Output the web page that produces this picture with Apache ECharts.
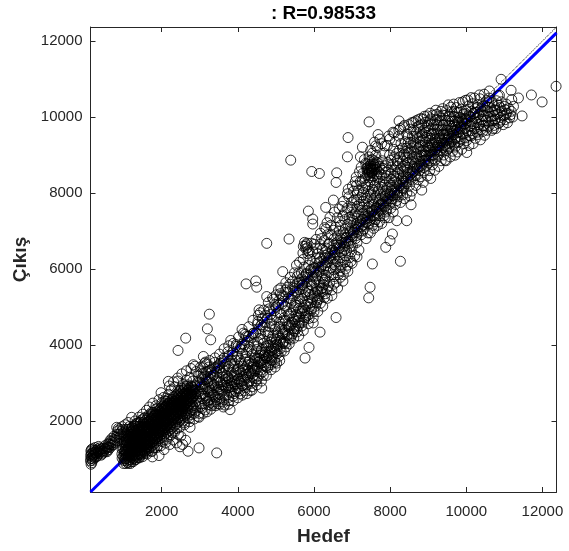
<!DOCTYPE html>
<html style="height: 100%">

<head>
  <meta charset="utf-8">
  <script type="text/javascript" src="https://cdn.jsdelivr.net/npm/echarts@6/dist/echarts.min.js"></script>
</head>

<body style="height: 100%; margin: 0; background: #fff">
  <div id="container" style="width: 569px; height: 551px"></div>
  <script type="text/javascript">
    var axisMin = 130;
    var axisMax = 12370;
    var tickValues = [2000, 4000, 6000, 8000, 10000, 12000];
    var titleText = ': R=0.98533';
    var xName = 'Hedef';
    var yName = 'Çıkış';

    var identityLine = [[130, 130], [12370, 12370]];
    var fitLine = [[130, 130], [12370, 12215]];

    // single circles that stand apart from the cloud
    var outliers = [
      [10915,10993],[11177,10704],[11711,10581],[11370,10502],[11992,10397],[12359,10809],[11466,10029],[11195,10458],
      [10608,10686],[10345,10581],[10126,10511],[9907,10397],[10871,10572],[10713,9697],[10013,9066],[7447,9872],
      [8235,9898],[8804,9959],[6895,9460],[7683,9539],[7272,9206],[7622,9241],[6878,8952],[7219,8952],[7447,8952],
      [5389,8865],[5941,8567],[6142,8514],[6597,8532],[6580,8278],[5853,7525],[5967,7315],[5967,7183],[6308,7621],
      [6343,7218],[6510,7814],[5345,6789],[7534,6132],[8270,6203],[7885,6570],[7998,6745],[8060,6921],[8436,7271],
      [8174,7271],[8550,7691],[8524,7919],[8830,8077],[9067,8383],[9443,8865],[9706,8996],[4759,6675],[5179,5931],
      [4216,5608],[4470,5686],[4496,5520],[3252,4811],[3200,4425],[3287,4136],[2631,4180],[2429,3856],[3095,3698],
      [2832,3480],[2870,3440],[3182,3497],[3813,4119],[2175,3042],[1983,2744],[1212,2096],[818,1833],[3445,1159],
      [2981,1290],[2692,1203],[2631,1492],[2745,1833],[2981,2096],[3795,2297],[3620,2368],[3357,2446],[4627,2867],
      [4321,2797],[4873,3348],[5021,3523],[4146,4312],[4190,4280],[4557,4925],[4590,4850],[4759,5275],[5065,5450],[1676,2367],
      [1755,1054],[1930,1089],[2061,1247],[2394,1422],[2438,1640],[1738,1203],[2300,1500],[2500,1600],[2210,1380],
      [7473,5520],[7438,5240],[6580,4723],[6159,4338],[5765,3655],[5870,3935],[2550,1380],[2480,1320],[2100,1420]
    ];

    // band near the left axis, below the main body
    var leftCluster = [
      [145,860],[130,950],[160,1020],[135,1090],[170,1150],[140,1210],[190,1270],[210,1180],[235,1040],[250,1300],
      [270,1130],[290,1220],[310,1080],[340,1330],[360,1150],[385,1240],[400,1190],[430,1130],[455,1280],[480,1210],
      [510,1350],[530,1270],[565,1190],[590,1400],[610,1310],[640,1480],[660,1370],[690,1540],[720,1430],[750,1600],
      [780,1500],[830,1650],[870,1560],[900,1770],[930,1640],[960,1850],[1000,1700],[1040,1900],[1070,1780],[1120,1960],
      [1150,1850],[150,1130],[180,960],[200,1090],[155,1250],[165,900],[225,1230],[260,1190],[300,1150],[320,1260],
      [350,1210],[370,1290],[420,1260],[445,1200],[500,1260],[540,1200],[580,1300],[620,1390],[670,1460],[705,1360],
      [740,1510],[800,1570],[845,1740],[880,1660],[820,1480],[910,1580],[860,1800],[140,1010],[175,1060],[205,1000],
      [125,1160],[215,1110],[245,1160],[280,1050],[330,1180],[410,1100],[470,1160],[555,1320],[600,1240],[650,1300],
      [730,1380],[770,1440],[940,1720],[980,1780],[1010,1600],[1060,1680],[1100,1720],[1130,1780]
    ];

    // the solid black body from about 1000 to 2900
    var lowBody = [
      [1010,960],[985,1070],[1020,1170],[990,1265],[1030,1345],[1105,905],[1090,1010],[1120,1095],[1085,1195],[1115,1310],
      [1095,1420],[1195,925],[1210,1035],[1180,1125],[1220,1245],[1190,1355],[1205,1465],[1185,1570],[1300,975],[1285,1085],
      [1310,1195],[1295,1290],[1320,1405],[1280,1510],[1305,1625],[1290,1730],[1400,1045],[1415,1150],[1385,1265],[1410,1365],
      [1395,1485],[1420,1590],[1390,1700],[1405,1800],[1500,1130],[1490,1235],[1515,1340],[1485,1450],[1510,1555],[1495,1660],
      [1520,1760],[1490,1870],[1600,1230],[1615,1325],[1590,1430],[1610,1540],[1585,1640],[1620,1745],[1595,1850],[1610,1955],
      [1700,1300],[1690,1410],[1715,1510],[1695,1620],[1710,1725],[1685,1830],[1705,1935],[1720,2040],[1800,1390],[1815,1495],
      [1790,1600],[1810,1710],[1785,1815],[1820,1915],[1795,2020],[1805,2130],[1900,1480],[1890,1590],[1915,1690],[1895,1800],
      [1910,1900],[1885,2010],[1905,2115],[1920,2215],[2000,1560],[2015,1670],[1990,1770],[2010,1880],[1985,1985],[2020,2090],
      [1995,2195],[2005,2300],[2100,1660],[2090,1760],[2115,1865],[2095,1970],[2110,2075],[2085,2180],[2105,2285],[2120,2385],
      [2200,1750],[2215,1850],[2190,1955],[2210,2060],[2185,2165],[2220,2270],[2195,2375],[2205,2480],[2300,1840],[2290,1945],
      [2315,2050],[2295,2155],[2310,2255],[2285,2365],[2305,2470],[2400,1930],[2415,2035],[2390,2140],[2410,2245],[2385,2350],
      [2420,2450],[2395,2555],[2500,2030],[2490,2130],[2515,2235],[2495,2335],[2510,2440],[2485,2545],[2505,2640],[2600,2120],
      [2615,2225],[2590,2325],[2610,2430],[2585,2530],[2620,2635],[2595,2730],[2700,2210],[2690,2320],[2715,2420],[2695,2525],
      [2710,2625],[2685,2730],[2705,2810],[2800,2300],[2815,2410],[2790,2510],[2810,2615],[2785,2710],[2820,2820],[2795,2900],
      [2900,2400],[2890,2500],[2915,2600],[2895,2710],[2910,2800],[2885,2900],
      [1045,1010],[1060,1120],[1035,1230],[1065,1390],[1150,970],[1140,1070],[1165,1170],[1135,1270],[1160,1400],[1145,1510],
      [1250,1000],[1235,1090],[1260,1210],[1240,1320],[1255,1420],[1245,1530],[1265,1640],[1350,1040],[1365,1140],[1340,1240],
      [1360,1350],[1335,1450],[1370,1560],[1345,1670],[1360,1770],[1450,1100],[1440,1210],[1465,1310],[1445,1420],[1460,1520],
      [1435,1630],[1455,1730],[1470,1830],[1550,1180],[1565,1290],[1540,1390],[1560,1490],[1535,1600],[1570,1700],[1545,1810],
      [1560,1910],[1650,1270],[1640,1380],[1665,1470],[1645,1580],[1660,1680],[1635,1790],[1655,1890],[1670,1990],[1750,1350],
      [1765,1450],[1740,1560],[1760,1670],[1735,1770],[1770,1870],[1745,1980],[1760,2080],[1850,1440],[1840,1540],[1865,1650],
      [1845,1750],[1860,1860],[1835,1960],[1855,2070],[1870,2170],[1950,1530],[1965,1630],[1940,1730],[1960,1840],[1935,1940],
      [1970,2050],[1945,2150],[1960,2250],[2050,1620],[2040,1720],[2065,1820],[2045,1930],[2060,2030],[2035,2130],[2055,2240],
      [2070,2340],[2150,1710],[2165,1810],[2140,1910],[2160,2020],[2135,2120],[2170,2220],[2145,2330],[2160,2430],[2250,1800],
      [2240,1900],[2265,2010],[2245,2110],[2260,2210],[2235,2320],[2255,2420],[2350,1890],[2365,1990],[2340,2100],[2360,2200],
      [2335,2300],[2370,2410],[2345,2510],[2450,1980],[2440,2090],[2465,2190],[2445,2290],[2460,2390],[2435,2500],[2455,2600],
      [2550,2080],[2565,2180],[2540,2280],[2560,2390],[2535,2490],[2570,2590],[2545,2690],[2650,2170],[2640,2270],[2665,2380],
      [2645,2480],[2660,2580],[2635,2680],[2655,2770],[2750,2260],[2765,2370],[2740,2470],[2760,2570],[2735,2670],[2770,2770],
      [1770,2470],[1850,2400],[1930,2560],[2050,2620],[2250,2820],[2340,2900],[2430,3050],[2560,2960],[2650,3080],[2740,3150],
      [2820,3050],[1300,2000],[1400,2100],[1500,2180],[1600,2280],[2180,2700],[2120,2600],[2480,2800],[2680,2950],
      [1980,1350],[2130,1520],[1870,1300],[2280,1690],[2400,1800],[2590,1950],[2720,2060],[1620,1130],[1750,1200]
    ];

    // second pass over the body, where the picture goes solid
    var lowFill = [
      [1025,1003],[1018,1112],[1032,1208],[1040,1298],[1072,952],[1078,1064],[1068,1158],[1081,1252],[1074,1361],[1069,1463],
      [1128,884],[1122,1044],[1131,1138],[1119,1236],[1127,1344],[1124,1452],[1133,1563],[1172,984],[1178,1083],[1169,1192],
      [1181,1287],[1174,1418],[1177,1524],[1171,1642],[1228,1062],[1221,1173],[1232,1283],[1219,1392],[1226,1488],[1231,1604],
      [1224,1712],[1273,1022],[1279,1134],[1271,1243],[1281,1357],[1274,1463],[1278,1568],[1269,1684],[1276,1792],[1328,1093],
      [1322,1214],[1331,1318],[1319,1432],[1327,1537],[1324,1653],[1333,1752],[1321,1863],[1377,1102],[1372,1203],[1381,1313],
      [1374,1417],[1369,1523],[1379,1628],[1373,1744],[1382,1853],[1371,1952],[1423,1118],[1429,1224],[1421,1327],[1431,1438],
      [1424,1536],[1428,1647],[1419,1756],[1427,1861],[1432,1973],[1477,1172],[1472,1283],[1481,1381],[1474,1494],[1469,1598],
      [1479,1703],[1473,1809],[1482,1912],[1471,2024],[1526,1213],[1522,1326],[1531,1424],[1519,1532],[1527,1643],[1524,1748],
      [1533,1846],[1521,1959],[1528,2067],[1573,1262],[1579,1373],[1571,1476],[1581,1582],[1574,1684],[1578,1795],[1569,1902],
      [1576,2012],[1628,1318],[1622,1427],[1631,1529],[1619,1637],[1627,1742],[1624,1853],[1633,1951],[1621,2068],[1677,1363],
      [1672,1468],[1681,1579],[1674,1686],[1669,1782],[1679,1897],[1673,2004],[1682,2103],[1726,1422],[1722,1532],[1731,1641],
      [1719,1744],[1727,1851],[1724,1958],[1733,2061],[1721,2172],[1773,1478],[1779,1583],[1771,1692],[1781,1796],[1774,1901],
      [1778,2012],[1769,2114],[1776,2218],[1828,1536],[1822,1641],[1831,1744],[1819,1857],[1827,1963],[1824,2071],[1833,2172],
      [1873,1584],[1879,1696],[1871,1803],[1881,1912],[1874,2019],[1878,2121],[1869,2238],[1926,1642],[1922,1751],[1931,1858],
      [1919,1964],[1927,2068],[1924,2176],[1933,2283],[1977,1706],[1972,1812],[1981,1918],[1974,2027],[1969,2128],[1979,2235],
      [1973,2342],[2026,1761],[2022,1869],[2031,1976],[2019,2082],[2027,2187],[2024,2296],[2033,2398],[2077,1813],[2072,1922],
      [2081,2028],[2074,2134],[2069,2241],[2079,2346],[2073,2452],[2128,1874],[2122,1982],[2131,2089],[2119,2193],[2127,2301],
      [2124,2408],[2133,2517],[2177,1932],[2172,2038],[2181,2147],[2174,2253],[2169,2359],[2179,2466],[2173,2564],[2228,1986],
      [2222,2094],[2231,2202],[2219,2306],[2227,2413],[2224,2521],[2277,2042],[2272,2149],[2281,2256],[2274,2363],[2269,2467],
      [2279,2573],[2328,2098],[2322,2206],[2331,2311],[2319,2417],[2327,2524],[2324,2628],[2377,2154],[2372,2261],[2381,2368],
      [2374,2473],[2369,2579],[2379,2682],[2428,2212],[2422,2319],[2431,2423],[2419,2528],[2427,2633],[2424,2742],[2477,2267],
      [2472,2374],[2481,2479],[2474,2582],[2469,2688],[2479,2796],[2528,2322],[2522,2428],[2531,2534],[2519,2641],[2527,2744],
      [2577,2381],[2572,2487],[2581,2592],[2574,2697],[2569,2803],[2628,2438],[2622,2541],[2631,2649],[2619,2752],[2627,2858],
      [2677,2489],[2672,2597],[2681,2701],[2674,2809],[2669,2912],[2728,2546],[2722,2652],[2731,2758],[2719,2864],[2777,2604],
      [2772,2706],[2781,2814],[2774,2922],[2828,2661],[2822,2768],[2831,2872],[2877,2716],[2872,2824],[2881,2930],[2860,2200],
      [2840,2350],[2900,2260],[2780,2170],[2670,2090],[2560,2000],[1225,1820],[1290,1880],[1350,1930],[1440,1960],[1560,2090],
      [1660,2160],[1740,2230],[1820,2300],[1890,2340],[2000,2470],[2090,2530],[2310,2640],[2400,2710],[2520,2860],[2600,2900]
    ];

    // mesh from about 3000 to 6400
    var midBand = [
      [2990,2200],[3030,2380],[2970,2520],[3020,2650],[2985,2780],[3040,2900],[3005,3020],[2960,3180],[3130,2450],[3170,2600],
      [3100,2720],[3190,2840],[3120,2970],[3165,3100],[3095,3250],[3310,2400],[3260,2560],[3340,2680],[3280,2800],[3325,2920],
      [3250,3060],[3350,3200],[3290,3350],[3470,2450],[3420,2620],[3490,2740],[3400,2880],[3455,3010],[3510,3150],[3430,3300],
      [3480,3450],[3580,2500],[3640,2700],[3560,2830],[3620,2950],[3670,3100],[3590,3250],[3650,3400],[3570,3600],[3770,2530],
      [3710,2680],[3790,2810],[3730,2940],[3780,3060],[3700,3200],[3760,3350],[3810,3520],[3735,3700],[3880,2650],[3940,2780],
      [3860,2900],[3920,3030],[3850,3160],[3950,3290],[3890,3430],[3930,3600],[3870,3820],[4070,2720],[4010,2860],[4090,2980],
      [4030,3110],[4100,3250],[4020,3380],[4080,3520],[4000,3700],[4060,3900],[4180,2800],[4240,2950],[4160,3080],[4220,3210],
      [4150,3340],[4250,3480],[4190,3620],[4230,3800],[4170,4000],[4215,4220],[4370,2900],[4310,3050],[4390,3180],[4330,3310],
      [4400,3450],[4320,3590],[4380,3750],[4300,3950],[4360,4200],[4480,3050],[4540,3180],[4460,3320],[4520,3440],[4450,3580],
      [4550,3720],[4490,3880],[4530,4080],[4470,4320],[4515,4550],[4670,3200],[4610,3340],[4690,3470],[4630,3600],[4700,3740],
      [4620,3880],[4680,4050],[4600,4280],[4660,4480],[4640,4700],[4780,3400],[4840,3530],[4760,3660],[4820,3790],[4750,3920],
      [4850,4070],[4790,4250],[4830,4480],[4770,4700],[4815,4950],[4970,3550],[4910,3680],[4990,3810],[4930,3950],[5000,4080],
      [4920,4240],[4980,4420],[4900,4650],[4960,4900],[4940,5200],[5080,3700],[5140,3830],[5060,3980],[5120,4120],[5050,4260],
      [5150,4420],[5090,4600],[5130,4800],[5070,5050],[5115,5350],[5270,3950],[5210,4100],[5290,4250],[5230,4400],[5300,4550],
      [5220,4720],[5280,4900],[5200,5150],[5260,5450],[5380,4150],[5440,4300],[5360,4450],[5420,4600],[5350,4760],[5450,4920],
      [5390,5100],[5430,5300],[5370,5600],[5570,4350],[5510,4500],[5590,4650],[5530,4800],[5600,4960],[5520,5120],[5580,5300],
      [5500,5500],[5560,5800],[5540,6100],[5680,4500],[5740,4660],[5660,4820],[5720,4980],[5650,5140],[5750,5300],[5690,5480],
      [5730,5680],[5670,5900],[5715,6250],[5870,4700],[5810,4850],[5890,5000],[5830,5160],[5900,5330],[5820,5500],[5880,5680],
      [5800,5880],[5860,6100],[5840,6400],[5980,4720],[6040,5020],[5960,5200],[6020,5380],[5950,5560],[6050,5740],[5990,5930],
      [6030,6150],[5970,6450],[6015,6650],[6170,5100],[6110,5300],[6190,5480],[6130,5660],[6200,5840],[6120,6020],[6180,6200],
      [6100,6400],[6160,6650],[6280,5250],[6340,5450],[6260,5650],[6320,5830],[6250,6000],[6350,6180],[6290,6360],[6330,6550],
      [6270,6750],[6315,7050],
      [5750,6700],[5800,6640],[5830,6560],[5770,6600],[5820,6680],[5850,6480],[5720,6600],[5790,6530],
      [4870,3680],[4700,3620],[4560,3560],[4420,3320],[4250,3160],[4110,3050],[3960,2980],[3820,2920],[3690,2860],[3530,2700],
      [5600,4520],[5480,4420],[5330,4280],[5180,4050],[5030,3850],[5780,4760],[5940,4950],[6090,5180]
    ];

    // second pass over the mesh, thicker along the dark lobe under the fit line
    var midFill = [
      [3060,2330],[3010,2460],[3080,2590],[3035,2710],[3075,2840],[3015,2960],[3070,3090],[3030,3240],[3080,3400],[3140,2290],
      [3205,2520],[3145,2660],[3215,2770],[3150,2900],[3210,3030],[3140,3170],[3215,3310],[3150,3550],[3230,2430],[3300,2490],
      [3235,2620],[3305,2740],[3240,2860],[3310,2990],[3225,3130],[3300,3270],[3240,3420],[3380,2510],[3440,2560],[3370,2700],
      [3450,2810],[3375,2950],[3440,3080],[3370,3210],[3450,3370],[3390,3540],[3530,2590],[3490,2900],[3540,3020],[3505,2830],
      [3535,3290],[3520,3400],[3540,3520],[3640,2560],[3600,2780],[3680,2900],[3610,3030],[3690,3180],[3620,3330],[3690,3500],
      [3640,3660],[3760,2620],[3830,2750],[3760,2870],[3830,2990],[3750,3130],[3830,3270],[3760,3440],[3840,3600],[3900,2720],
      [3980,2850],[3910,2960],[3985,3090],[3905,3210],[3990,3350],[3910,3510],[3975,3680],[3950,3960],[4040,2790],[4120,2930],
      [4045,3040],[4130,3170],[4055,3300],[4125,3440],[4045,3600],[4120,3780],[4110,4020],[4195,2880],[4285,3020],[4200,3130],
      [4290,3260],[4205,3400],[4280,3550],[4210,3700],[4280,3890],[4250,4100],[4350,2990],[4430,3120],[4355,3240],[4440,3370],
      [4360,3510],[4445,3660],[4370,3840],[4420,4020],[4400,4300],[4505,3110],[4590,3250],[4510,3380],[4595,3510],[4505,3650],
      [4590,3790],[4510,3970],[4580,4170],[4555,4420],[4650,3290],[4730,3420],[4655,3540],[4740,3670],[4665,3810],[4740,3960],
      [4660,4140],[4720,4350],[4700,4600],[4810,3470],[4890,3600],[4805,3720],[4885,3860],[4800,3990],[4890,4150],[4810,4340],
      [4880,4560],[4860,4800],[4960,3620],[5040,3770],[4950,3890],[5030,4020],[4960,4160],[5035,4320],[4960,4500],[5020,4720],
      [5000,5000],[5110,3900],[5190,4040],[5105,4180],[5185,4320],[5100,4470],[5190,4640],[5110,4850],[5170,5080],[5150,5300],
      [5250,4040],[5330,4180],[5245,4330],[5325,4480],[5250,4630],[5330,4810],[5250,5020],[5320,5230],[5300,5520],[5410,4240],
      [5480,4360],[5400,4520],[5475,4680],[5395,4840],[5480,5010],[5400,5200],[5470,5420],[5440,5680],[5540,4430],[5620,4580],
      [5550,4730],[5625,4880],[5540,5040],[5620,5210],[5550,5400],[5610,5630],[5600,5900],[5690,4590],[5770,4720],[5695,4900],
      [5775,5060],[5700,5220],[5775,5390],[5690,5580],[5760,5790],[5740,6050],[5840,4780],[5920,4900],[5845,5080],[5925,5240],
      [5850,5410],[5930,5590],[5845,5780],[5920,5990],[5900,6250],[6000,4880],[6070,5110],[6005,5290],[6075,5470],[6000,5650],
      [6075,5830],[6005,6040],[6070,6280],[6060,6550],[6130,5200],[6215,5390],[6150,5570],[6225,5750],[6145,5930],[6220,6110],
      [6150,6300],[6215,6520],[6200,6800],[6300,5350],[6375,5550],[6295,5740],[6380,5920],[6300,6090],[6385,6280],[6310,6460],
      [6380,6650],[6360,6900],[6170,5390],[6220,5500],[6250,5580],[6280,5700],[6100,5420],[6080,5240],[5930,5110],[5760,4900],
      [5620,4740],[5500,4620],[5340,4520],[5180,4280],[5020,4140],[4880,3960],[4720,3820],[4570,3650],[4420,3490],[4270,3330],
      [4130,3330],[3990,3190],[3840,3080],[3720,3010],[3570,2950],[4530,3540],[4390,3410],[4840,3830],[4680,3720],[4990,3980]
    ];

    // wider part of the band, 6400 to 8400
    var upperBand = [
      [6470,5450],[6410,5650],[6490,5850],[6430,6020],[6500,6180],[6420,6340],[6480,6500],[6400,6680],[6460,6900],[6440,7150],
      [6580,5650],[6640,5850],[6560,6020],[6620,6200],[6550,6370],[6650,6530],[6590,6690],[6630,6880],[6570,7100],[6615,7350],
      [6770,5850],[6710,6050],[6790,6230],[6730,6420],[6800,6600],[6720,6780],[6780,6960],[6700,7150],[6760,7400],[6740,7650],
      [6880,6100],[6940,6300],[6860,6480],[6920,6660],[6850,6830],[6950,7000],[6890,7180],[6930,7360],[6870,7600],[6915,7900],
      [6900,8100],[7070,6350],[7010,6600],[7090,6800],[7030,6960],[7100,7120],[7020,7280],[7080,7450],[7000,7620],[7060,7820],
      [7040,8050],[7085,8300],[7180,6500],[7240,6900],[7160,7100],[7220,7250],[7150,7400],[7250,7550],[7190,7700],[7230,7880],
      [7170,8080],[7215,8300],[7195,8560],[7370,6800],[7310,7050],[7390,7250],[7330,7400],[7400,7540],[7320,7700],[7380,7860],
      [7300,8020],[7360,8200],[7340,8400],[7385,8650],[7325,8880],[7480,6950],[7540,7150],[7460,7350],[7520,7500],[7450,7650],
      [7550,7800],[7490,7950],[7530,8100],[7470,8300],[7515,8520],[7495,8760],[7535,9050],[7670,7150],[7610,7300],[7690,7450],
      [7630,7600],[7700,7750],[7620,7900],[7680,8050],[7600,8200],[7660,8400],[7640,8620],[7685,8800],[7625,9000],[7665,9200],
      [7780,7200],[7840,7400],[7760,7550],[7820,7700],[7750,7850],[7850,8000],[7790,8150],[7830,8300],[7770,8480],[7815,8650],
      [7795,8850],[7835,9050],[7775,9300],[7970,7350],[7910,7550],[7990,7700],[7930,7850],[8000,8000],[7920,8150],[7980,8300],
      [7900,8450],[7960,8600],[7940,8800],[7985,9000],[7925,9250],[7965,9500],[8080,7500],[8140,7700],[8060,7850],[8120,8000],
      [8050,8150],[8150,8300],[8090,8450],[8130,8600],[8070,8750],[8115,8950],[8095,9150],[8135,9350],[8075,9600],[8270,7750],
      [8210,7900],[8290,8050],[8230,8200],[8300,8350],[8220,8500],[8280,8640],[8200,8790],[8260,8950],[8240,9120],[8285,9300],
      [8225,9500],[8265,9700],[7560,8450],[7590,8620],[7620,8760],[7500,8580],[7450,8520],[7550,8700],[7580,8850],[7480,8720],
      [7430,8620],[7650,8500],[7700,8560],[7720,8700],[7530,8880],[7470,8850],[7400,8480],[7420,8760]
    ];

    // second pass, thicker along the dark stretch from 6700 to 8400
    var upperFill = [
      [6520,5600],[6530,5800],[6510,5980],[6535,6120],[6525,6290],[6540,6450],[6520,6620],[6530,6800],[6515,7020],[6690,5780],
      [6680,5950],[6695,6120],[6670,6290],[6690,6460],[6675,6620],[6690,6810],[6665,7000],[6680,7250],[6830,6000],[6820,6180],
      [6835,6350],[6810,6520],[6830,6700],[6815,6900],[6830,7080],[6810,7300],[6825,7500],[6970,6200],[6985,6450],[6960,6600],
      [6985,6760],[6975,6900],[6990,7070],[6970,7230],[6990,7400],[6970,7560],[6985,7750],[7130,6700],[7115,6880],[7135,7040],
      [7120,7190],[7130,7340],[7115,7500],[7135,7650],[7120,7820],[7135,8000],[7120,8200],[7275,7000],[7290,7160],[7270,7310],
      [7285,7460],[7275,7620],[7290,7780],[7270,7950],[7285,8120],[7270,8320],[7285,8520],[7420,6950],[7435,7180],[7415,7330],
      [7430,7480],[7415,7620],[7435,7770],[7420,7910],[7435,8060],[7415,8220],[7435,8400],[7570,7070],[7585,7240],[7565,7400],
      [7580,7550],[7570,7700],[7585,7860],[7570,8020],[7585,8170],[7570,8330],[7720,7250],[7735,7400],[7715,7540],[7735,7680],
      [7720,7820],[7735,7960],[7715,8110],[7730,8260],[7720,8430],[7870,7350],[7885,7500],[7870,7650],[7885,7790],[7870,7930],
      [7890,8070],[7870,8220],[7880,8380],[7870,8540],[7880,8720],[8020,7600],[8035,7780],[8020,7920],[8035,8060],[8020,8210],
      [8035,8360],[8020,8510],[8030,8680],[8020,8860],[8170,7800],[8185,7950],[8170,8090],[8185,8240],[8170,8390],[8185,8530],
      [8170,8690],[8185,8850],[8170,9040],[8330,7950],[8345,8120],[8330,8260],[8340,8410],[8325,8560],[8345,8700],[8330,8840],
      [8340,9000],[8325,9180],[7470,8450],[7510,8650],[7440,8560],[7590,8520],[7540,8600],[7490,8640],[7610,8680],[7410,8680]
    ];

    // dense top part, 8400 to 11300
    var topBand = [
      [8380,7850],[8440,8000],[8360,8150],[8420,8300],[8350,8450],[8450,8600],[8390,8730],[8430,8870],[8370,9020],[8415,9180],
      [8395,9350],[8435,9550],[8375,9780],[8570,8050],[8510,8200],[8590,8340],[8530,8480],[8600,8620],[8520,8760],[8580,8900],
      [8500,9040],[8560,9180],[8540,9330],[8585,9500],[8525,9680],[8565,9850],[8680,8200],[8740,8350],[8660,8490],[8720,8630],
      [8650,8770],[8750,8900],[8690,9030],[8730,9170],[8670,9300],[8715,9450],[8695,9600],[8735,9750],[8675,9900],[8870,8280],
      [8810,8430],[8890,8580],[8830,8720],[8900,8860],[8820,8990],[8880,9120],[8800,9250],[8860,9380],[8840,9510],[8885,9650],
      [8825,9800],[8865,9950],[8980,8450],[9040,8590],[8960,8730],[9020,8860],[8950,8990],[9050,9120],[8990,9250],[9030,9380],
      [8970,9510],[9015,9640],[8995,9770],[9035,9900],[8975,10030],[9170,8600],[9110,8740],[9190,8880],[9130,9010],[9200,9140],
      [9120,9270],[9180,9400],[9100,9530],[9160,9660],[9140,9790],[9185,9920],[9125,10050],[9280,8700],[9340,8850],[9260,8990],
      [9320,9120],[9250,9250],[9350,9380],[9290,9510],[9330,9640],[9270,9770],[9315,9900],[9295,10030],[9335,10150],[9470,8850],
      [9410,9000],[9490,9130],[9430,9260],[9500,9390],[9420,9520],[9480,9650],[9400,9780],[9460,9910],[9440,10040],[9485,10170],
      [9580,8950],[9640,9100],[9560,9230],[9620,9360],[9550,9490],[9650,9620],[9590,9750],[9630,9880],[9570,10010],[9615,10140],
      [9595,10260],[9770,9080],[9710,9210],[9790,9340],[9730,9470],[9800,9600],[9720,9730],[9780,9860],[9700,9990],[9760,10120],
      [9740,10250],[9880,9150],[9940,9300],[9860,9430],[9920,9560],[9850,9690],[9950,9820],[9890,9950],[9930,10080],[9870,10210],
      [10070,9250],[10010,9380],[10090,9510],[10030,9640],[10100,9770],[10020,9900],[10080,10030],[10000,10160],[10060,10290],[10040,10450],
      [10180,9300],[10240,9440],[10160,9570],[10220,9700],[10150,9830],[10250,9960],[10190,10090],[10230,10220],[10170,10350],[10215,10500],
      [10370,9400],[10310,9540],[10390,9670],[10330,9800],[10400,9930],[10320,10060],[10380,10190],[10300,10320],[10360,10480],[10480,9520],
      [10540,9650],[10460,9780],[10520,9910],[10450,10040],[10550,10170],[10490,10300],[10530,10430],[10470,10600],[10670,9650],[10610,9780],
      [10690,9900],[10630,10020],[10700,10140],[10620,10260],[10680,10380],[10600,10500],[10780,9700],[10840,9830],[10760,9950],[10820,10070],
      [10750,10190],[10850,10310],[10790,10430],[10830,10560],[10970,9800],[10910,9920],[10990,10040],[10930,10160],[11000,10280],[10920,10400],
      [11080,9850],[11140,9980],[11060,10100],[11120,10220],[11050,10340],[11220,10000],[11180,10150],[11240,10280]
    ];

    // second pass, thicker through the black core from 8400 to 10400
    var topFill = [
      [8460,8420],[8470,8540],[8455,8670],[8475,8800],[8460,8930],[8470,9060],[8455,9190],[8475,9330],[8460,9480],[8620,8560],
      [8630,8690],[8615,8820],[8635,8950],[8620,9080],[8630,9210],[8615,9340],[8630,9490],[8620,9650],[8770,8700],[8785,8830],
      [8770,8960],[8785,9080],[8770,9210],[8785,9340],[8770,9470],[8785,9610],[8770,9780],[8925,8840],[8935,8970],[8920,9090],
      [8935,9210],[8920,9340],[8935,9460],[8920,9590],[8935,9720],[8920,9860],[9075,8970],[9085,9090],[9070,9200],[9085,9320],
      [9070,9440],[9085,9560],[9070,9680],[9085,9810],[9070,9950],[9225,9080],[9235,9200],[9220,9320],[9235,9440],[9220,9560],
      [9235,9680],[9220,9800],[9235,9930],[9220,10070],[9375,9190],[9385,9310],[9370,9430],[9385,9550],[9370,9670],[9385,9790],
      [9370,9920],[9385,10050],[9530,9170],[9540,9300],[9525,9420],[9540,9540],[9525,9660],[9540,9780],[9525,9900],[9540,10030],
      [9680,9280],[9690,9400],[9675,9530],[9690,9650],[9675,9770],[9690,9890],[9675,10020],[9690,10150],[9820,9350],[9835,9480],
      [9820,9610],[9835,9730],[9820,9860],[9835,9990],[9820,10120],[9970,9450],[9985,9580],[9970,9700],[9985,9830],[9970,9960],
      [9985,10090],[10125,9500],[10135,9640],[10120,9760],[10135,9880],[10120,10010],[10135,10150],[10280,9600],[10290,9730],[10275,9860],
      [10290,9990],[10275,10120],[10290,10260],[10430,9620],[10440,9760],[10425,9890],[10440,10020],[10425,10150],[10440,10290],[10570,9740],
      [10585,9870],[10570,10000],[10585,10130],[10570,10260],[10585,10400],[10730,9780],[10745,9910],[10730,10040],[10745,10170],[10730,10300],
      [10880,9860],[10895,9990],[10880,10120],[10895,10250],[11020,9930],[11035,10060],[11020,10190],[11160,10060],[8900,9000],[9000,9180],
      [9100,9250],[9200,9350],[9300,9450],[9400,9550],[9500,9580],[9600,9700],[9700,9800],[9800,9900],[9900,9880],[10000,9950]
    ];

    // circles lying over the fit line and along the edges of the cloud
    var edgeFill = [
      [2940,3010],[3060,3140],[3170,3290],[3280,3180],[3390,3400],[3510,3480],[3620,3560],[3740,3820],[3850,3730],[3960,4010],
      [4080,3960],[4180,4120],[4290,4230],[4410,4310],[4530,4620],[4610,4520],[4720,4780],[4840,4900],[4970,5060],[5090,5180],
      [5200,5290],[5320,5390],[5440,5510],[5560,5620],[5670,5740],[5790,5850],[5910,5960],[6030,6020],[6140,6180],[6260,6290],
      [6370,6400],[6490,6500],[6600,6640],[6720,6700],[6840,6810],[6950,6960],[7070,7040],[7190,7180],[7300,7300],[7420,7400],
      [7540,7520],[7650,7620],[7770,7720],[7890,7860],[8000,7960],[8120,8080],[8240,8190],[8350,8310],[8470,8400],[8590,8540],
      [8700,8660],[8820,8760],[8940,8880],[9050,9010],[9170,9110],[9280,9240],[9400,9350],[9520,9450],[9630,9580],[9750,9670],
      [9870,9770],[9980,9930],[10100,10010],[10220,10130],[5620,5450],[5710,5580],[5820,5660],[5960,5810],[6070,5940],[6190,6060],
      [6320,6170],[6440,6290],[6550,6420],[6670,6560],[6790,6680],[6900,6730],[7020,6870],[7140,6980],[7250,7110],[7370,7220],
      [7480,7280],[7600,7430],[7710,7580],[7830,7660],[7950,7790],[8060,7930],[8190,8020],[8300,8130],[8420,8250],[8540,8360],
      [8660,8460],[8770,8590],[8890,8670],[9000,8790],[9120,8900],[9240,9020],[9350,9130],[9470,9220],[9590,9320],[9700,9430],
      [2340,1710],[2470,1830],[2600,1900],[2730,1980],[2850,2050],[2960,2120],[3090,2200],[3190,2240],[3290,2310],[3420,2400],
      [3530,2440],[3650,2420],[3750,2440],[3880,2530],[4000,2610],[4120,2680],[4240,2720],[4370,2810],[4500,2950],[4620,3050],
      [4750,3200],[4870,3480],[4980,3420],[5100,3590],[5220,3840],[5350,4030],[5470,4180],[5600,4240],[5720,4380],[5850,4560],
      [5980,4580],[6100,4880],[6230,5020],[6350,5230],[6470,5300],[6620,5500],[6760,5680],[6890,5940],[7000,6150],[7130,6320],
      [2200,2920],[2310,3030],[2420,3130],[2530,3240],[2650,3320],[2770,3380],[2900,3300],[3020,3420],[3130,3520],[3260,3590],
      [3400,3660],[3520,3760],[3640,3900],[3760,3980],[3880,4040],[4020,4210],[4110,4410],[4290,4480],[4400,4650],[4540,4780],
      [4680,4920],[4800,5120],[4910,5240],[5010,5320],[5130,5500],[5260,5640],[5380,5780],[5490,5900],[5620,6180],[5710,6420],
      [5880,6440],[5930,6680],[6060,6780],[6170,6940],[6280,7090],[6420,7360],[6540,7500],[6660,7580],[6780,7780],[6880,7980],
      [7010,8180],[7110,8420],[7240,8680],[7360,8780],[7490,9120],[7590,9340],[7730,9420],[7860,9240],[7990,9420],[8110,9580],
      [8230,9660],[8350,9740],[8490,9800],[8610,9860],[8740,9930],[8900,10020],[9050,10100],[9200,10180],[9380,10220],[9530,10320],
      [9670,10340],[9820,10380],[9980,10440],[7510,8540],[7540,8660],[7460,8600],[7600,8720],[7650,8800],[7400,8600],[7560,8760],
      [1065,1500],[1110,1620],[1190,1720],[1240,1850],[1310,1920],[1200,1800],[1150,1660],[1080,1580],[1020,1450],[960,1250],
      [955,1130],[960,1020],[1000,880],[1060,880],[1180,880],[1250,930],[1330,990],[1420,1030],[1500,1060],[1580,1150],
      [1660,1210],[1800,1290],[1900,1350],[2020,1460],[2150,1580],[2240,1640],[1010,1420],[1090,1530],[1200,1650],[1260,1760]
    ];

    var allPoints = [].concat(outliers, leftCluster, lowBody, lowFill, midBand, midFill, upperBand, upperFill, topBand, topFill, edgeFill);

    var textColor = '#262626';
    var myChart = echarts.init(document.getElementById('container'), null, { renderer: 'canvas' });

    function makeAxis(position, type) {
      var main = position === 'bottom' || position === 'left';
      return {
        type: 'value',
        position: position,
        min: axisMin,
        max: axisMax,
        splitLine: { show: false },
        axisLine: { show: true, onZero: false, lineStyle: { color: textColor, width: 1 } },
        axisTick: { show: true, inside: true, length: 5, customValues: tickValues, lineStyle: { color: textColor, width: 1 } },
        axisLabel: {
          show: main,
          customValues: tickValues,
          margin: type === 'x' ? 12 : 8,
          color: textColor,
          fontFamily: 'Liberation Sans',
          fontSize: 15,
          formatter: function(v) { return String(v); }
        },
        name: main ? (type === 'x' ? xName : yName) : '',
        nameLocation: 'middle',
        nameGap: type === 'x' ? 35 : 50,
        nameTextStyle: { color: textColor, fontFamily: 'Liberation Sans', fontSize: 19, fontWeight: 'bold' }
      };
    }

    var option = {
      animation: false,
      backgroundColor: '#fff',
      title: {
        text: titleText,
        left: 318.5,
        top: -1,
        textAlign: 'center',
        textStyle: { color: '#000', fontFamily: 'Liberation Sans', fontSize: 19, fontWeight: 'bold' }
      },
      grid: { left: 90.5, right: 12.5, top: 27, bottom: 58.5 },
      xAxis: [makeAxis('bottom', 'x'), makeAxis('top', 'x')],
      yAxis: [makeAxis('left', 'y'), makeAxis('right', 'y')],
      series: [
        {
          type: 'line',
          data: identityLine,
          z: 1,
          symbol: 'none',
          silent: true,
          lineStyle: { color: '#000', width: 1, type: 'dotted' }
        },
        {
          type: 'line',
          data: fitLine,
          z: 2,
          symbol: 'none',
          silent: true,
          lineStyle: { color: '#0000ff', width: 3 }
        },
        {
          type: 'scatter',
          data: allPoints,
          z: 3,
          silent: true,
          progressive: 0,
          symbol: 'circle',
          symbolSize: 10,
          itemStyle: { color: 'transparent', borderColor: '#000', borderWidth: 1 }
        }
      ]
    };
    myChart.setOption(option);
  </script>
</body>

</html>
